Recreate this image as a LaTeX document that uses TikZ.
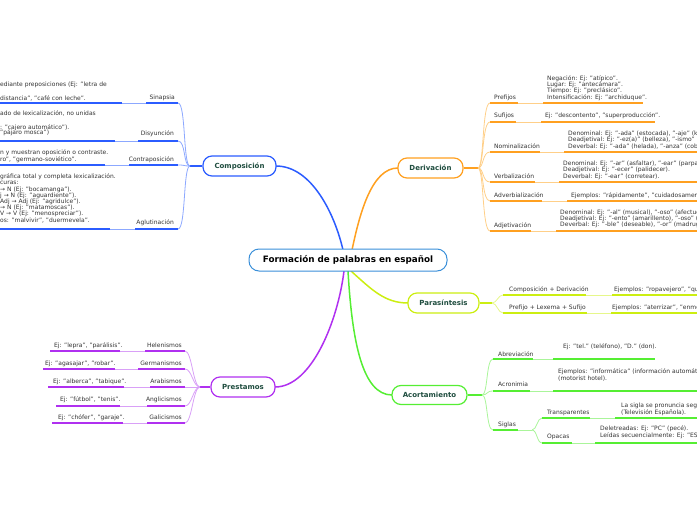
\documentclass[tikz,border=0pt]{standalone}
\usepackage{fontspec}
\setmainfont{DejaVu Sans}
\definecolor{cblue}{HTML}{2B5CFF}
\definecolor{lblue}{HTML}{8CA8FF}
\definecolor{corange}{HTML}{FFA020}
\definecolor{lorange}{HTML}{FFCF88}
\definecolor{cyg}{HTML}{CCEE11}
\definecolor{lyg}{HTML}{E6F78A}
\definecolor{cgreen}{HTML}{55EE33}
\definecolor{lgreen}{HTML}{AAF59A}
\definecolor{cpurple}{HTML}{B030F0}
\definecolor{lpurple}{HTML}{D9A0F7}
\definecolor{ctext}{HTML}{1F4D3F}
\definecolor{cmain}{HTML}{3A8FD9}
\definecolor{cleaf}{HTML}{333333}
\begin{document}
\begin{tikzpicture}[x=1pt,y=-1pt,
  mainnode/.style={draw=cmain, line width=1pt, rounded corners=10pt, fill=white,
    minimum width=198pt, minimum height=22pt, inner sep=0,
    font=\bfseries\fontsize{8.8}{10}\selectfont, text=black},
  topic/.style={rounded corners=9pt, line width=1.2pt, fill=white, minimum height=20pt,
    inner sep=0, font=\bfseries\fontsize{7}{8}\selectfont, text=ctext},
  leaf/.style={inner sep=0, align=left, font=\fontsize{6}{6.2}\selectfont, text=cleaf},
  lab/.style={inner sep=0, font=\fontsize{6}{7}\selectfont, text=cleaf},
  uline/.style={line width=1.8pt},
  conn/.style={line width=0.8pt},
  trunk/.style={line width=1.5pt}]
\useasboundingbox (0,0) rectangle (697,520);
\clip (0,0) rectangle (697,520);

% ---------- central connectors ----------
\coordinate (mcB) at (343,250);
\coordinate (mcO) at (352,250);
\coordinate (mcP) at (344,271);
\coordinate (mcG) at (348,271);
\coordinate (mcY) at (351,271);
\coordinate (compR) at (276,166);
\coordinate (derL) at (398,168);
\coordinate (presR) at (275,387);
\coordinate (acoL) at (392,395);
\coordinate (parL) at (408,303);
\draw[trunk,cblue] (mcB) .. controls (335,215) and (312,166) .. (compR);
\draw[trunk,corange] (mcO) .. controls (360,212) and (372,168) .. (derL);
\draw[trunk,cpurple] (mcP) .. controls (338,320) and (312,387) .. (presR);
\draw[trunk,cgreen] (mcG) .. controls (352,340) and (362,395) .. (acoL);
\draw[trunk,cyg] (mcY) .. controls (372,290) and (385,303) .. (parL);

% ---------- main nodes ----------
\node[mainnode] (main) at (348,260) {Formación de palabras en español};
\node[topic,draw=cblue,minimum width=73pt] (comp) at (239.5,166) {Composición};
\node[topic,draw=corange,minimum width=65pt] (der) at (430.5,168) {Derivación};
\node[topic,draw=cyg,minimum width=71pt] (par) at (443.5,303) {Parasíntesis};
\node[topic,draw=cgreen,minimum width=75pt,minimum height=19pt] (aco) at (429.5,395) {Acortamiento};
\node[topic,draw=cpurple,minimum width=64pt] (pres) at (243,387) {Prestamos};

% ---------- Composición ----------
\coordinate (bC) at (190,166);
\draw[trunk,cblue,line width=2pt] (comp.west) -- (bC);
\foreach \n/\y/\b/\c in {sin/103/146/122, dis/141/138/115, con/165/129/105, agl/229/135/110}{
  \coordinate (\n a) at (178,\y);
  \coordinate (\n b) at (\b,\y);
  \coordinate (\n c) at (\c,\y);
  \coordinate (\n d) at (-5,\y);
  \draw[conn,lblue] (bC) .. controls +(-7,0) and +(8,0) .. (\n a);
  \draw[uline,cblue] (\n a) -- (\n b);
  \draw[conn,lblue] (\n b) -- (\n c);
  \draw[uline,cblue] (\n c) -- (\n d);
}
\node[lab,anchor=base east] (lsin) at (175,99) {Sinapsia};
\node[lab,anchor=base east] (ldis) at (174,135) {Disyunción};
\node[lab,anchor=base east] (lcon) at (174,161) {Contraposición};
\node[lab,anchor=base east] (lagl) at (174,224) {Aglutinación};
\node[leaf,anchor=base west] (tsin) at (0,100) {ediante preposiciones (Ej: "letra de\\[7.5pt]distancia", "café con leche".};
\node[leaf,anchor=base west] (tdis) at (0,134.5) {ado de lexicalización, no unidas\\[7.5pt]: "cajero automático").\\[-1.2pt]"pájaro mosca")};
\node[leaf,anchor=base west] (tcon) at (0,161) {n y muestran oposición o contraste.\\ro", "germano-soviético".};
\node[leaf,anchor=base west] (tagl) at (0,222) {gráfica total y completa lexicalización.\\curas:\\→ N (Ej: "bocamanga").\\j → N (Ej: "aguardiente").\\Adj → Adj (Ej: "agridulce").\\→ N (Ej: "matamoscas").\\V → V (Ej: "menospreciar").\\os: "malvivir", "duermevela".};

% ---------- Derivación ----------
\coordinate (bD) at (478,168);
\draw[trunk,corange,line width=2pt] (der.east) -- (bD);
\foreach \n/\y/\b/\c/\d in {pre/103/518/543/643, suf/122/516/541/655, nom/152/540/564/700, ver/182/535/559/700, adv/201/542/567/700, adj/231/531/556/700}{
  \coordinate (\n a) at (490,\y);
  \coordinate (\n b) at (\b,\y);
  \coordinate (\n c) at (\c,\y);
  \coordinate (\n d) at (\d,\y);
  \draw[conn,lorange] (bD) .. controls +(6,0) and +(-8,0) .. (\n a);
  \draw[uline,corange] (\n a) -- (\n b);
  \draw[conn,lorange] (\n b) -- (\n c);
  \draw[uline,corange] (\n c) -- (\n d);
}
\node[lab,anchor=base west] (lpre) at (494,99) {Prefijos};
\node[lab,anchor=base west] (lsuf) at (494,117) {Sufijos};
\node[lab,anchor=base west] (lnom) at (494,148) {Nominalización};
\node[lab,anchor=base west] (lver) at (494,178) {Verbalización};
\node[lab,anchor=base west] (ladv) at (494,197) {Adverbialización};
\node[lab,anchor=base west] (ladj) at (494,227) {Adjetivación};
\node[leaf,anchor=base west] (tpre) at (547,99) {Negación: Ej: "atípico".\\Lugar: Ej: "antecámara".\\Tiempo: Ej: "preclásico".\\Intensificación: Ej: "archiduque".};
\node[leaf,anchor=base west] (tsuf) at (545,117) {Ej: "descontento", "superproducción".};
\node[leaf,anchor=base west] (tnom) at (568,148) {Denominal: Ej: "-ada" (estocada), "-aje" (kilometraje).\\Deadjetival: Ej: "-ez(a)" (belleza), "-ismo" (laicismo).\\Deverbal: Ej: "-ada" (helada), "-anza" (cobranza).};
\node[leaf,anchor=base west] (tver) at (563,178) {Denominal: Ej: "-ar" (asfaltar), "-ear" (parpadear).\\Deadjetival: Ej: "-ecer" (palidecer).\\Deverbal: Ej: "-ear" (corretear).};
\node[leaf,anchor=base west] (tadv) at (571,197) {Ejemplos: "rápidamente", "cuidadosamente".};
\node[leaf,anchor=base west] (tadj) at (560,226.5) {Denominal: Ej: "-al" (musical), "-oso" (afectuoso).\\Deadjetival: Ej: "-ento" (amarillento), "-oso" (verdoso).\\Deverbal: Ej: "-ble" (deseable), "-or" (madrugador).};

% ---------- Parasíntesis ----------
\coordinate (bP) at (492,303);
\draw[trunk,cyg,line width=2pt] (par.east) -- (bP);
\foreach \n/\y/\b/\c in {pcd/295/586/612, pls/313/587/611}{
  \coordinate (\n a) at (503,\y);
  \coordinate (\n b) at (\b,\y);
  \coordinate (\n c) at (\c,\y);
  \coordinate (\n d) at (700,\y);
  \draw[conn,lyg] (bP) .. controls +(5,0) and +(-5,0) .. (\n a);
  \draw[uline,cyg] (\n a) -- (\n b);
  \draw[conn,lyg] (\n b) -- (\n c);
  \draw[uline,cyg] (\n c) -- (\n d);
}
\node[lab,anchor=base west] (lpcd) at (509,291) {Composición + Derivación};
\node[lab,anchor=base west] (lpls) at (509,309) {Prefijo + Lexema + Sufijo};
\node[leaf,anchor=base west] (tpcd) at (614,291) {Ejemplos: "ropavejero", "quinceañero".};
\node[leaf,anchor=base west] (tpls) at (612,309) {Ejemplos: "aterrizar", "enmohecer".};

% ---------- Acortamiento ----------
\coordinate (bA) at (482,395);
\draw[trunk,cgreen,line width=2pt] (aco.east) -- (bA);
\foreach \n/\y/\b/\c/\d in {abr/359/533/553/655, acr/391/530/553/700}{
  \coordinate (\n a) at (493,\y);
  \coordinate (\n b) at (\b,\y);
  \coordinate (\n c) at (\c,\y);
  \coordinate (\n d) at (\d,\y);
  \draw[conn,lgreen] (bA) .. controls +(6,0) and +(-7,0) .. (\n a);
  \draw[uline,cgreen] (\n a) -- (\n b);
  \draw[conn,lgreen] (\n b) -- (\n c);
  \draw[uline,cgreen] (\n c) -- (\n d);
}
\coordinate (siga) at (493,430);
\coordinate (sigb) at (518,430);
\coordinate (bS) at (532,430);
\draw[conn,lgreen] (bA) .. controls +(6,0) and +(-7,0) .. (siga);
\draw[uline,cgreen] (siga) -- (sigb);
\draw[conn,lgreen] (sigb) -- (bS);
\foreach \n/\y/\b/\c in {tra/418/590/615, opa/443/572/595}{
  \coordinate (\n a) at (542,\y);
  \coordinate (\n b) at (\b,\y);
  \coordinate (\n c) at (\c,\y);
  \coordinate (\n d) at (700,\y);
  \draw[conn,lgreen] (bS) .. controls +(5,0) and +(-5,0) .. (\n a);
  \draw[uline,cgreen] (\n a) -- (\n b);
  \draw[conn,lgreen] (\n b) -- (\n c);
  \draw[uline,cgreen] (\n c) -- (\n d);
}
\node[lab,anchor=base west] (labr) at (498,356) {Abreviación};
\node[lab,anchor=base west] (lacr) at (498,386) {Acronimia};
\node[lab,anchor=base west] (lsig) at (498,426) {Siglas};
\node[lab,anchor=base west] (ltra) at (547,414) {Transparentes};
\node[lab,anchor=base west] (lopa) at (547,438) {Opacas};
\node[leaf,anchor=base west] (tabr) at (563,348) {Ej: "tel." (teléfono), "D." (don).};
\node[leaf,anchor=base west] (tacr) at (558,380) {Ejemplos: "informática" (información automática), "motel"\\(motorist hotel).};
\node[leaf,anchor=base west] (ttra) at (621,414) {La sigla se pronuncia según se escribe\\(Televisión Española).};
\node[leaf,anchor=base west] (topa) at (600,437) {Deletreadas: Ej: "PC" (pecé).\\Leídas secuencialmente: Ej: "ESO" (Educación Secundaria Obligatoria).};

% ---------- Prestamos ----------
\coordinate (bR) at (200,387);
\draw[trunk,cpurple,line width=2pt] (pres.west) -- (bR);
\foreach \n/\y/\b/\c/\d in {hel/351/145/120/50, ger/369/138/115/43, ara/387/150/124/48, ang/406/147/120/56, gal/423/147/123/52}{
  \coordinate (\n a) at (185,\y);
  \coordinate (\n b) at (\b,\y);
  \coordinate (\n c) at (\c,\y);
  \coordinate (\n d) at (\d,\y);
  \draw[conn,lpurple] (bR) .. controls +(-7,0) and +(7,0) .. (\n a);
  \draw[uline,cpurple] (\n a) -- (\n b);
  \draw[conn,lpurple] (\n b) -- (\n c);
  \draw[uline,cpurple] (\n c) -- (\n d);
}
\node[lab,anchor=base east] (lhel) at (182,347) {Helenismos};
\node[lab,anchor=base east] (lger) at (182,365) {Germanismos};
\node[lab,anchor=base east] (lara) at (182,383) {Arabismos};
\node[lab,anchor=base east] (lang) at (182,401) {Anglicismos};
\node[lab,anchor=base east] (lgal) at (182,419) {Galicismos};
\node[leaf,anchor=base west] (thel) at (54,347) {Ej: "lepra", "parálisis".};
\node[leaf,anchor=base west] (tger) at (45,365) {Ej: "agasajar", "robar".};
\node[leaf,anchor=base west] (tara) at (53,383) {Ej: "alberca", "tabique".};
\node[leaf,anchor=base west] (tang) at (60,401) {Ej: "fútbol", "tenis".};
\node[leaf,anchor=base west] (tgal) at (58,419) {Ej: "chófer", "garaje".};
\end{tikzpicture}
\end{document}
